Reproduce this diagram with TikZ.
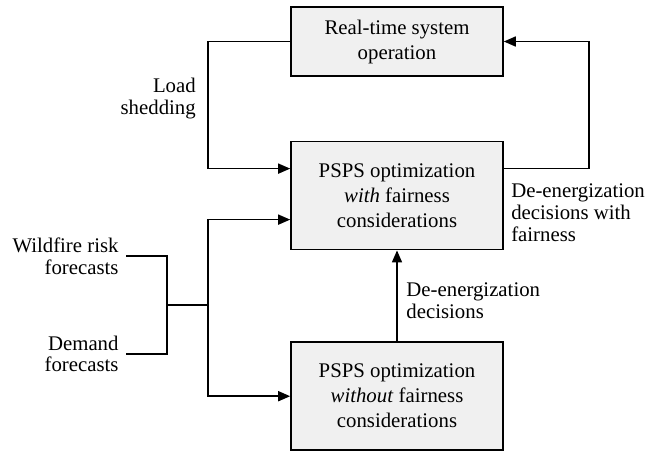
\documentclass[tikz,border=0pt]{standalone}
\usepackage{fontspec}
\setmainfont{Liberation Serif}
\usepackage{tikz}
\usetikzlibrary{positioning,arrows.meta,calc}

\begin{document}
\begin{tikzpicture}[
  auto, >={Triangle[length=6pt,width=5pt]}, line width=0.8pt,
  block/.style={draw, fill=gray!12, minimum width=106pt, minimum height=54pt,
    align=center, font=\fontsize{10.4}{12.5}\selectfont},
  lbl/.style={font=\fontsize{10.4}{10.8}\selectfont}
]
  \useasboundingbox (0,0) rectangle (331.5pt,-226pt);

  \node (realtime) [block, minimum height=34.5pt] at (198.5pt,-20.75pt) {Real-time system\\operation};
  \node (with-fair) [block, below=32pt of realtime] {PSPS optimization\\\textit{with} fairness\\considerations};
  \node (without-fair) [block, below=45.5pt of with-fair] {PSPS optimization\\\textit{without} fairness\\considerations};

  % forecasts
  \node (wildfire) [lbl, anchor=east, align=right] at (63pt,-128pt) {Wildfire risk\\forecasts};
  \node (demand) [lbl, anchor=east, align=right] at (63pt,-177pt) {Demand\\forecasts};

  \draw (wildfire.east) -- ++(20.5pt,0) coordinate (wf-turn) |- (demand.east);
  \coordinate (join) at ($(wf-turn)!0.5!(wf-turn |- demand.east)$);
  \coordinate (split) at ($(join)+(20.5pt,0)$);
  \draw (join) -- (split);
  \draw[->] (split) |- ([yshift=-12pt]with-fair.west);
  \draw[->] (split) |- (without-fair.west);

  % load shedding feedback
  \draw[->] (realtime.west) -- ++(-41pt,0) |- node[lbl, pos=0.225, left=2.5pt, align=right] {Load\\shedding} ([yshift=13.5pt]with-fair.west);

  % de-energization decisions
  \draw[->] ([yshift=13.5pt]with-fair.east) -- node[lbl, pos=0, below right, yshift=-4pt, align=left] {De-energization\\decisions with\\fairness} ++(42.5pt,0) |- (realtime.east);

  \draw[->] (without-fair) -- node[lbl, pos=0.45, right=1pt, align=left] {De-energization\\decisions} (with-fair);
\end{tikzpicture}
\end{document}
